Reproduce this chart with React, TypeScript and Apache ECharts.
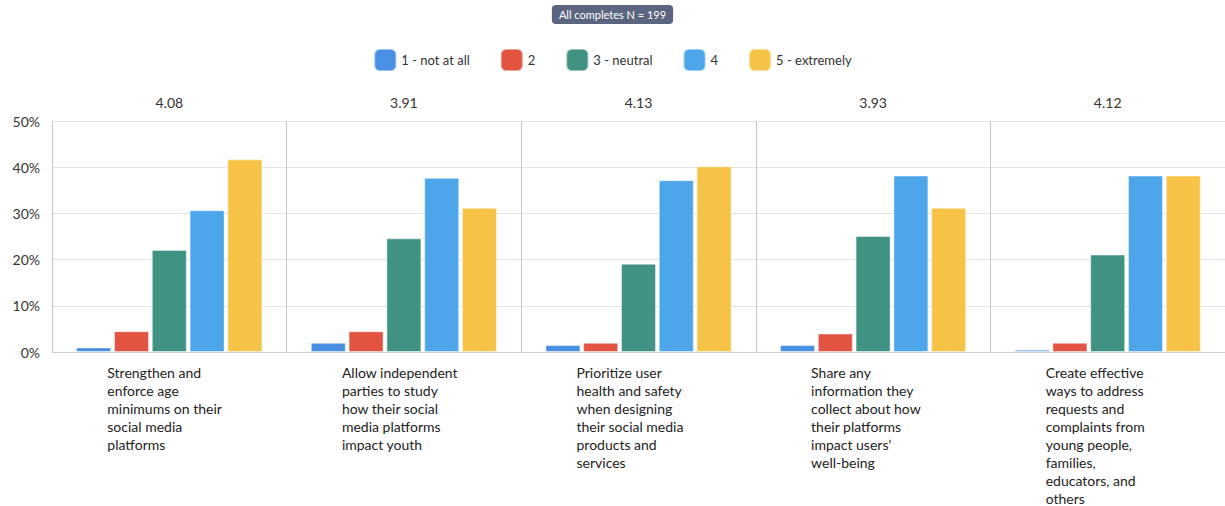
import React, { useEffect, useRef } from "react";
import * as echarts from "echarts";

// Survey statements (line breaks as they appear under the axis)
const categories = [
  "Strengthen and\nenforce age\nminimums on their\nsocial media\nplatforms",
  "Allow independent\nparties to study\nhow their social\nmedia platforms\nimpact youth",
  "Prioritize user\nhealth and safety\nwhen designing\ntheir social media\nproducts and\nservices",
  "Share any\ninformation they\ncollect about how\ntheir platforms\nimpact users’\nwell-being",
  "Create effective\nways to address\nrequests and\ncomplaints from\nyoung people,\nfamilies,\neducators, and\nothers",
];

// Mean score per statement
const meanScores = ["4.08", "3.91", "4.13", "3.93", "4.12"];

// Share of respondents (%) per rating level
const ratingNames = ["1 - not at all", "2", "3 - neutral", "4", "5 - extremely"];
const notAtAll = [1.0, 2.0, 1.5, 1.5, 0.5];
const ratingTwo = [4.5, 4.5, 2.0, 4.0, 2.0];
const neutral = [22.1, 24.6, 19.1, 25.1, 21.1];
const ratingFour = [30.7, 37.7, 37.2, 38.2, 38.2];
const extremely = [41.7, 31.2, 40.2, 31.2, 38.2];

const yTicks = { min: 0, max: 50, interval: 10 };
const sampleLabel = "All completes N = 199";

const colors = ["#4A90E2", "#E25342", "#409283", "#4EA6EA", "#F6C346"];
const FONT = "Lato, 'Noto Sans', sans-serif";

export default function App() {
  const ref = useRef<HTMLDivElement>(null);

  useEffect(() => {
    if (!ref.current) return;
    const chart = echarts.init(ref.current, undefined, { renderer: "svg" });
    const values = [notAtAll, ratingTwo, neutral, ratingFour, extremely];

    chart.setOption({
      animation: false,
      textStyle: { fontFamily: FONT, color: "#333" },
      title: {
        text: sampleLabel,
        left: "center",
        top: 5,
        padding: [4, 7],
        backgroundColor: "#5B6580",
        borderRadius: 4,
        textStyle: { color: "#fff", fontSize: 11, fontWeight: "normal", fontFamily: FONT },
      },
      legend: {
        top: 43,
        left: "center",
        icon: "roundRect",
        itemWidth: 22,
        itemHeight: 22,
        itemGap: 30,
        textStyle: { fontSize: 13, color: "#333", fontFamily: FONT },
        data: ratingNames,
      },
      grid: { left: 52, right: 0, top: 121, bottom: 154 },
      xAxis: [
        {
          type: "category",
          data: categories,
          axisLine: { show: true, lineStyle: { color: "#cfcfcf" } },
          axisTick: { show: false },
          splitLine: { show: true, lineStyle: { color: "#c4c4c4" } },
          axisLabel: {
            interval: 0,
            margin: 11,
            formatter: (v: string) => v.split("\n").map((l) => `{a|${l}}`).join("\n"),
            rich: {
              a: { width: 124, align: "left", fontSize: 14, lineHeight: 18, color: "#222", fontFamily: FONT },
            },
          },
        },
        {
          type: "category",
          position: "top",
          data: meanScores,
          axisLine: { show: false },
          axisTick: { show: false },
          splitLine: { show: false },
          axisLabel: { interval: 0, margin: 12, fontSize: 14, color: "#333", fontFamily: FONT },
        },
      ],
      yAxis: {
        type: "value",
        min: yTicks.min,
        max: yTicks.max,
        interval: yTicks.interval,
        axisLine: { show: true, lineStyle: { color: "#c4c4c4" } },
        axisTick: { show: false },
        splitLine: { lineStyle: { color: "#e3e3e3" } },
        axisLabel: { formatter: "{value}%", fontSize: 14, color: "#333", margin: 12, fontFamily: FONT },
      },
      series: ratingNames.map((name, i) => ({
        name,
        type: "bar",
        xAxisIndex: 0,
        data: values[i],
        barWidth: 35,
        barGap: "8%",
        itemStyle: { color: colors[i], borderColor: "rgba(255,255,255,0.45)", borderWidth: 1 },
      })),
    });

    return () => chart.dispose();
  }, []);

  return (
    <div
      ref={ref}
      style={{ position: "absolute", left: 0, top: 0, width: 1225, height: 506 }}
    />
  );
}
